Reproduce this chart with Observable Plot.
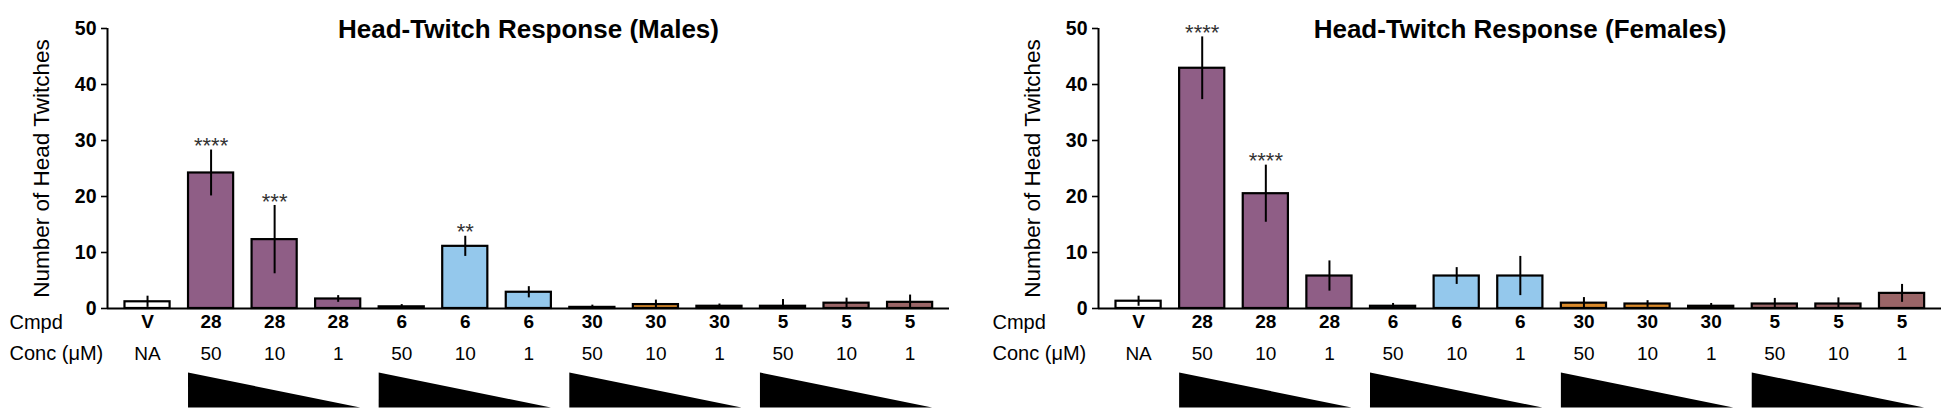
<!DOCTYPE html>
<html>
<head>
<meta charset="utf-8">
<script src="https://cdn.jsdelivr.net/npm/d3@7"></script>
<script src="https://cdn.jsdelivr.net/npm/@observablehq/plot@0.6"></script>
<style>
  body { margin: 0; background: #fff; }
  #wrap { display: flex; width: 1950px; height: 416px; }
  #wrap svg { display: block; }
</style>
</head>
<body>
<div id="wrap"></div>
<script>
// ---- data ----
const cmpd = ["V", "28", "28", "28", "6", "6", "6", "30", "30", "30", "5", "5", "5"];
const conc = ["NA", "50", "10", "1", "50", "10", "1", "50", "10", "1", "50", "10", "1"];
const yTicks = [0, 10, 20, 30, 40, 50];

const maleMean = [1.2, 24.2, 12.3, 1.7, 0.3, 11.1, 2.9, 0.2, 0.7, 0.4, 0.4, 0.95, 1.1];
const maleErr  = [1.0, 4.1, 6.1, 0.6, 0.4, 1.8, 1.0, 0.4, 0.8, 0.4, 1.2, 0.9, 1.3];
const maleStars = ["", "****", "***", "", "", "**", "", "", "", "", "", "", ""];

const femaleMean = [1.3, 42.9, 20.5, 5.8, 0.4, 5.8, 5.8, 0.95, 0.8, 0.4, 0.8, 0.8, 2.7];
const femaleErr  = [0.9, 5.6, 5.1, 2.7, 0.5, 1.5, 3.5, 1.0, 0.6, 0.5, 1.0, 1.1, 1.6];
const femaleStars = ["", "****", "****", "", "", "", "", "", "", "", "", "", ""];

// ---- styles ----
const compoundColor = {V: "#ffffff", "28": "#8f5e86", "6": "#94c8ec", "30": "#d98a2c", "5": "#9a6567"};
const FONT = "'Liberation Sans', Arial, Helvetica, sans-serif";
const W = 975, H = 416, MT = 28, MB = 108;
const pxPerUnit = (H - MT - MB) / 50;
const xDomain = [-0.63, 12.62];
const halfBar = 0.355;

function panel({title, mean, err, stars, marginLeft, marginRight, rowLabelDx}) {
  const rows = cmpd.map((c, i) => ({i, cmpd: c, conc: conc[i], mean: mean[i], err: err[i], stars: stars[i]}));
  // dose triangles: one per compound group (excluding vehicle)
  const groups = [...new Set(cmpd.filter(c => c !== "V"))];
  const triTop = -64.5 / pxPerUnit, triBot = -99.5 / pxPerUnit;
  const tri = [];
  for (const g of groups) {
    const idx = cmpd.map((c, i) => c === g ? i : -1).filter(i => i >= 0);
    const a = idx[0] - halfBar, b = idx[idx.length - 1] + halfBar;
    tri.push({g, x: a, y1: triBot, y2: triTop});
    tri.push({g, x: b, y1: triBot, y2: triBot});
  }
  return Plot.plot({
    width: W, height: H,
    marginTop: MT, marginBottom: MB, marginLeft, marginRight,
    style: {fontFamily: FONT, background: "white", overflow: "visible", color: "black"},
    x: {type: "linear", domain: xDomain, axis: null},
    y: {domain: [0, 50], axis: null},
    marks: [
      Plot.axisY({ticks: yTicks, tickSize: 6, tickPadding: 5, fontSize: 19.5, fontWeight: "bold", label: null, strokeWidth: 1.6}),
      Plot.rectY(rows, {x1: d => d.i - halfBar, x2: d => d.i + halfBar, y1: 0, y2: "mean",
        fill: d => compoundColor[d.cmpd], stroke: "black", strokeWidth: 2.2}),
      Plot.ruleX(rows, {x: "i", y1: d => Math.max(0, d.mean - d.err), y2: d => d.mean + d.err, stroke: "black", strokeWidth: 2}),
      Plot.ruleX([xDomain[0]], {stroke: "black", strokeWidth: 2}),
      Plot.ruleY([0], {stroke: "black", strokeWidth: 2}),
      Plot.text(rows.filter(d => d.stars), {x: "i", y: d => d.mean + d.err, text: "stars", dy: -4,
        fontSize: 22, fill: "#333"}),
      Plot.text([title], {frameAnchor: "top", dy: -9, fontSize: 26, fontWeight: "bold"}),
      Plot.text(["Number of Head Twitches"], {frameAnchor: "left", textAnchor: "middle", rotate: -90, dx: -66, fontSize: 22.5}),
      Plot.text(rows, {x: "i", frameAnchor: "bottom", text: "cmpd", dy: 19, fontSize: 19, fontWeight: "bold"}),
      Plot.text(rows, {x: "i", frameAnchor: "bottom", text: "conc", dy: 51, fontSize: 19}),
      Plot.text(["Cmpd"], {frameAnchor: "bottom-left", textAnchor: "start", dx: rowLabelDx, dy: 20, fontSize: 20}),
      Plot.text(["Conc (\u03bcM)"], {frameAnchor: "bottom-left", textAnchor: "start", dx: rowLabelDx, dy: 51, fontSize: 20}),
      Plot.areaY(tri, {x: "x", y1: "y1", y2: "y2", z: "g", fill: "black"})
    ]
  });
}

const wrap = document.getElementById("wrap");
wrap.append(panel({title: "Head-Twitch Response (Males)", mean: maleMean, err: maleErr, stars: maleStars,
  marginLeft: 107, marginRight: 26, rowLabelDx: -98}));
wrap.append(panel({title: "Head-Twitch Response (Females)", mean: femaleMean, err: femaleErr, stars: femaleStars,
  marginLeft: 123, marginRight: 9, rowLabelDx: -106}));
</script>
</body>
</html>
